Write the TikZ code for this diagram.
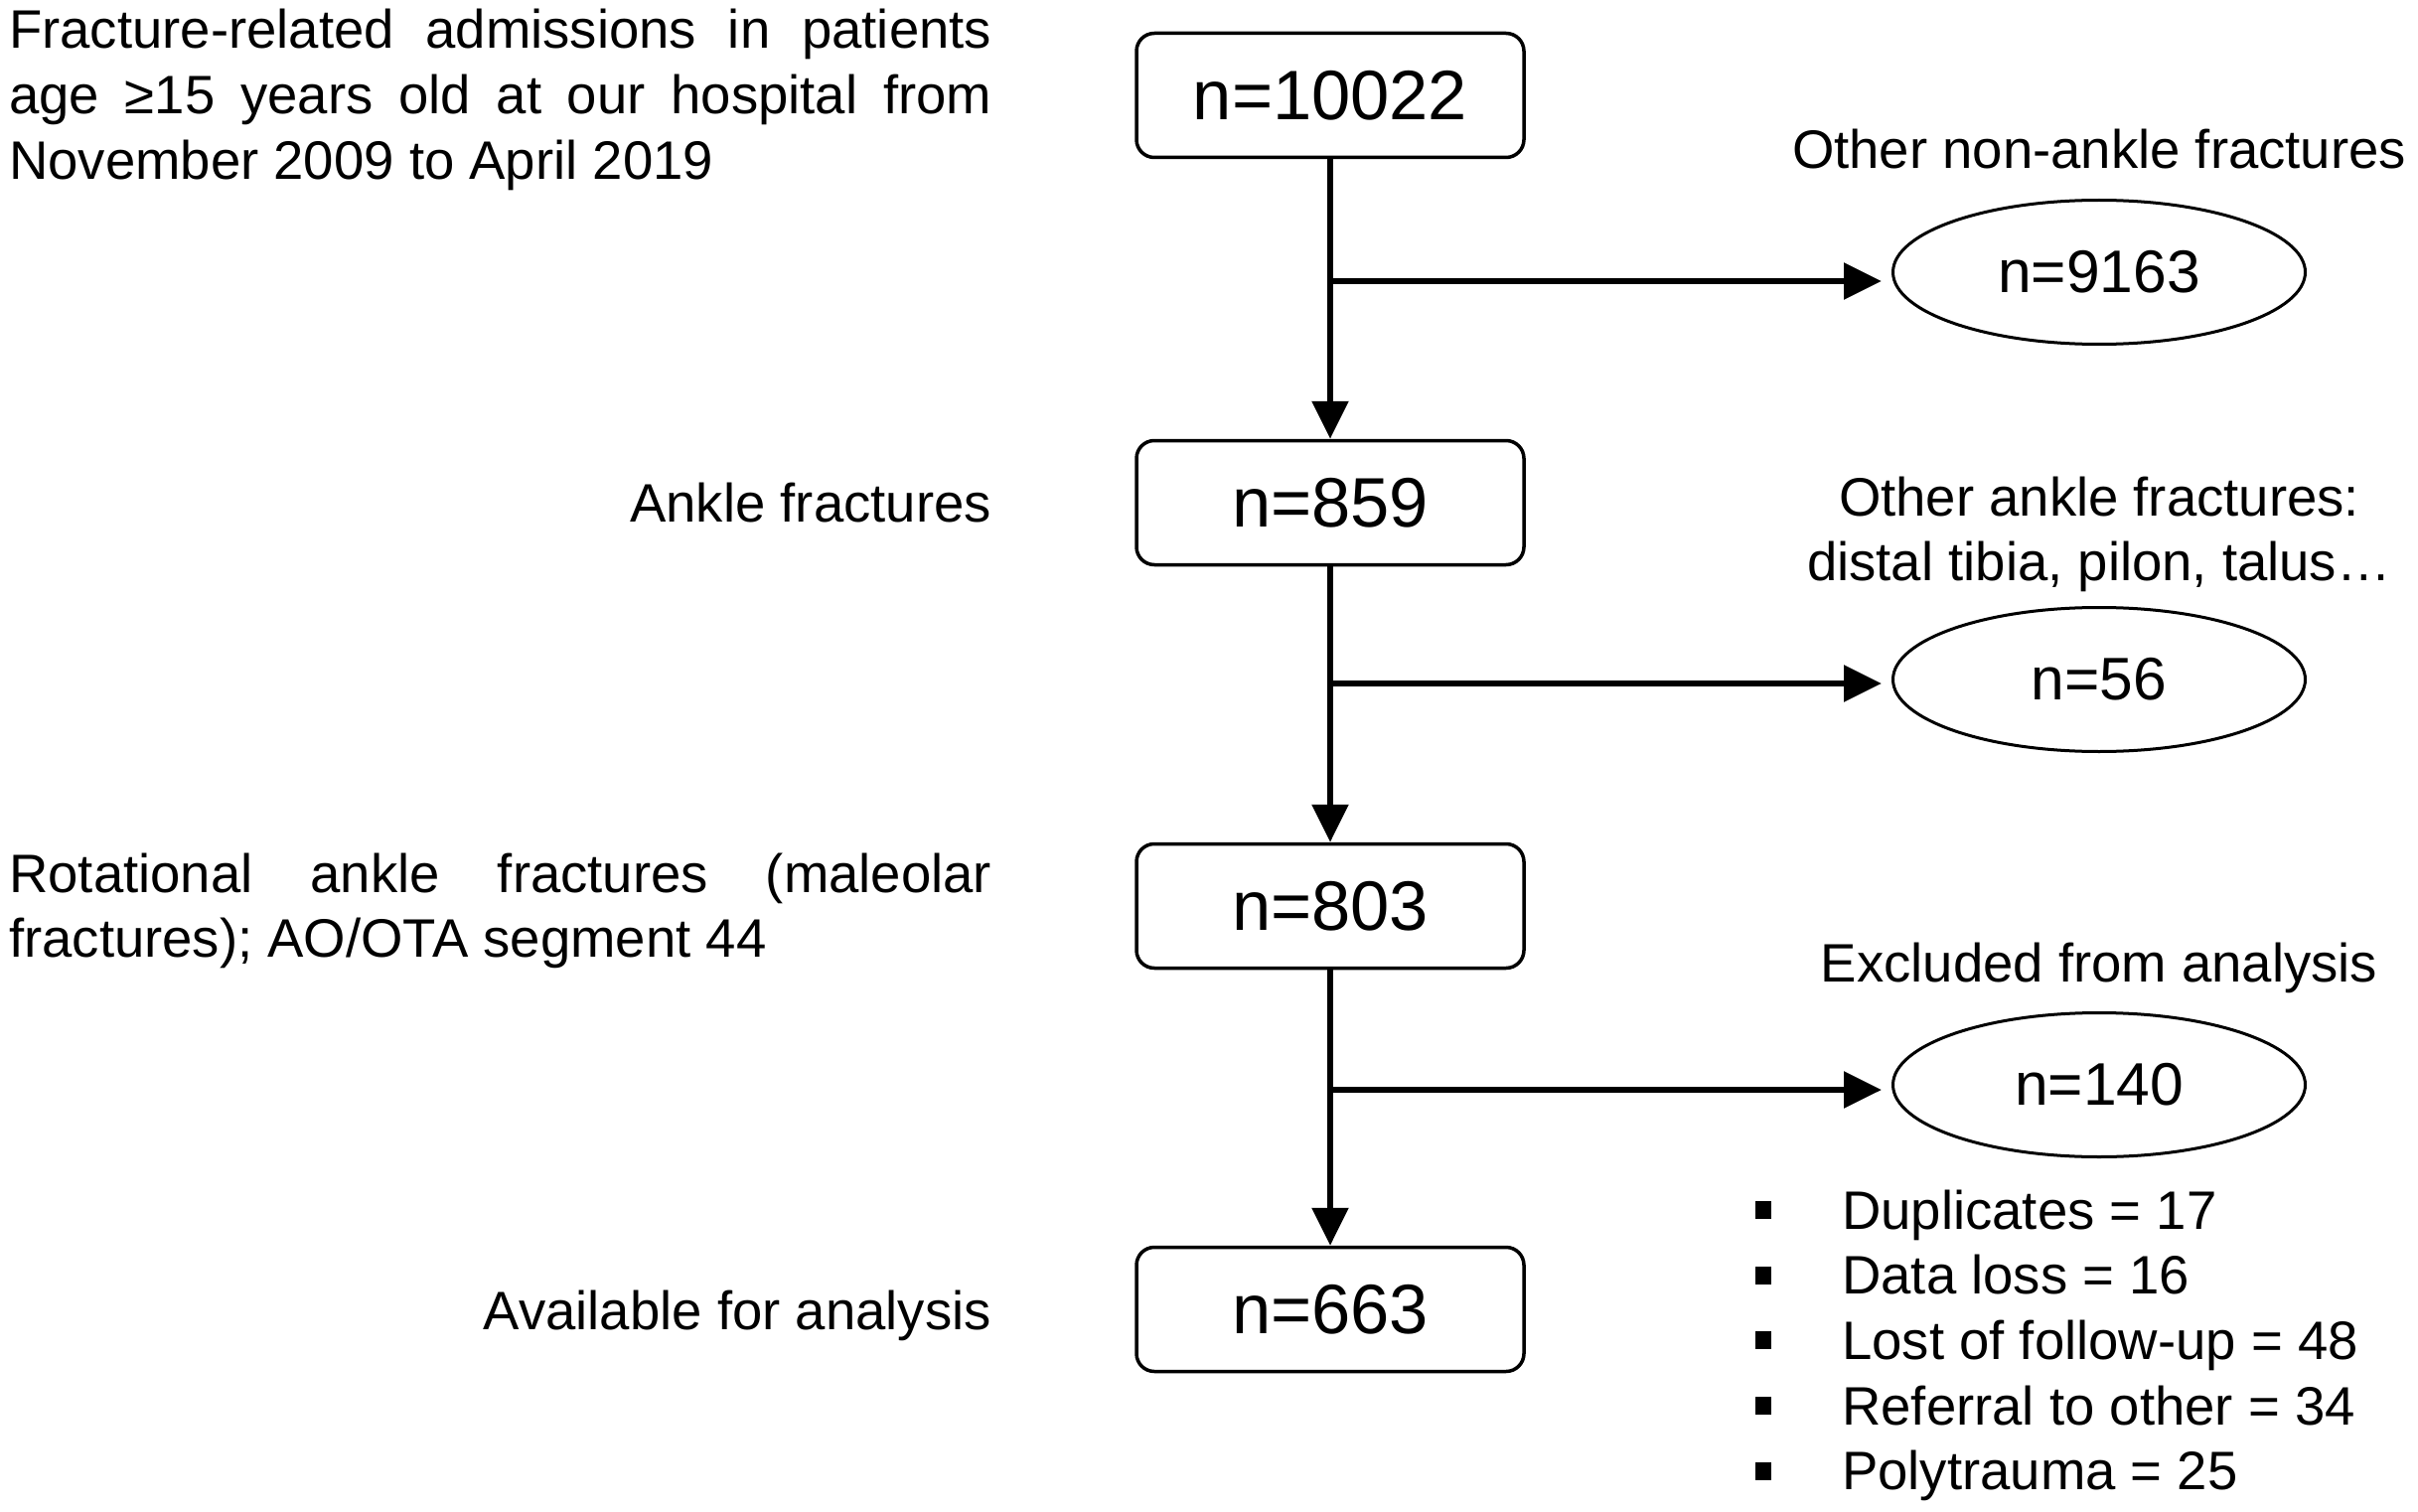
\documentclass[tikz,border=0pt]{standalone}
\usepackage{fontspec}
\setmainfont{Liberation Sans}
\usetikzlibrary{arrows.meta,shapes.geometric}
\newcommand\sqbullet{\raisebox{10pt}{\rule{16pt}{18pt}}}
\begin{document}
\begin{tikzpicture}[x=1pt,y=-1pt,
  stage/.style={draw,line width=3.5pt,rounded corners=18pt,minimum width=390pt,minimum height=125pt,inner sep=0pt,font=\fontsize{70.5}{84}\selectfont},
  excl/.style={draw,ellipse,line width=3pt,minimum width=415pt,minimum height=145pt,inner sep=0pt,font=\fontsize{60.5}{72}\selectfont},
  lbl/.style={inner sep=0pt,font=\fontsize{54.5}{65.7}\selectfont},
  flow/.style={line width=5.8pt,-{Triangle[length=38pt,width=36pt]}},
]
\useasboundingbox (0,0) rectangle (2434,1522);

% main stages
\node[stage] (b1) at (1339,96)   {n=10022};
\node[stage] (b2) at (1339,506)  {n=859};
\node[stage] (b3) at (1339,912)  {n=803};
\node[stage] (b4) at (1339,1318) {n=663};

% exclusions
\node[excl] (e1) at (2113,274)  {n=9163};
\node[excl] (e2) at (2113,684)  {n=56};
\node[excl] (e3) at (2113,1092) {n=140};

% right labels
\node[lbl,anchor=base] (l1) at (2113,170) {Other non-ankle fractures};
\node[lbl,anchor=base] (l2) at (2113,519) {\begin{tabular}[t]{@{}c@{}}Other ankle fractures:\\ distal tibia, pilon, talus…\end{tabular}};
\node[lbl,anchor=base] (l3) at (2113,988) {Excluded from analysis};

% left descriptions
\node[lbl,anchor=base west] (t1) at (9,49) {\begin{tabular}[t]{@{}l@{}}\makebox[989pt][s]{Fracture-related admissions in patients}\\ \makebox[989pt][s]{age ≥15 years old at our hospital from}\\ November 2009 to April 2019\end{tabular}};
\node[lbl,anchor=base east] (t2) at (998,525) {Ankle fractures};
\node[lbl,anchor=base west] (t3) at (9,898) {\begin{tabular}[t]{@{}l@{}}\makebox[989pt][s]{Rotational ankle fractures (maleolar}\\ fractures); AO/OTA segment 44\end{tabular}};
\node[lbl,anchor=base east] (t4) at (998,1338) {Available for analysis};

% exclusion reasons
\node[lbl,anchor=base west] (reasons) at (1767,1237) {\begin{tabular}[t]{@{}l@{\hspace{71pt}}l@{}}
\sqbullet & Duplicates = 17\\
\sqbullet & Data loss = 16\\
\sqbullet & Lost of follow-up = 48\\
\sqbullet & Referral to other = 34\\
\sqbullet & Polytrauma = 25
\end{tabular}};

% connectors
\draw[flow] (b1) -- (b2);
\draw[flow] (b2) -- (b3);
\draw[flow] (b3) -- (b4);
\coordinate (j1) at (1339,283);
\coordinate (j2) at (1339,688);
\coordinate (j3) at (1339,1097);
\draw[flow,shorten >=10pt] (j1) -- (j1 -| e1.west);
\draw[flow,shorten >=10pt] (j2) -- (j2 -| e2.west);
\draw[flow,shorten >=10pt] (j3) -- (j3 -| e3.west);
\end{tikzpicture}
\end{document}
